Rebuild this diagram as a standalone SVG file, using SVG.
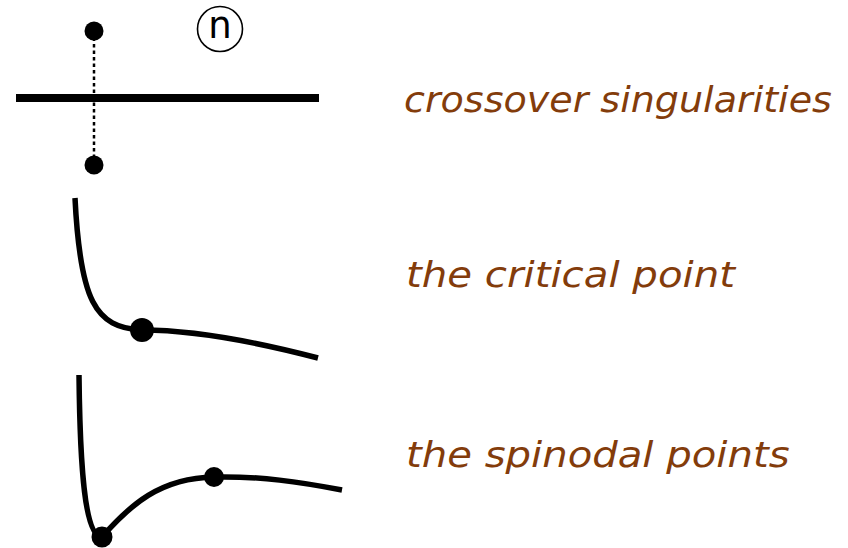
<svg xmlns="http://www.w3.org/2000/svg" width="848" height="548" viewBox="0 0 848 548">
<style>
.curve{fill:none;stroke:#000;stroke-width:5.5;stroke-linecap:butt}
.dot{fill:#000}
.lbl{font-family:"DejaVu Sans","Liberation Sans",sans-serif;font-style:oblique;font-size:35px;fill:#833C0B}
</style>
<rect width="848" height="548" fill="#fff"/>
<g id="crossover">
<line x1="16" y1="98" x2="319" y2="98" stroke="#000" stroke-width="8"/>
<line x1="94" y1="31" x2="94" y2="165" stroke="#000" stroke-width="2.5" stroke-dasharray="3.5 3"/>
<circle class="dot" cx="94" cy="31" r="9.5"/>
<circle class="dot" cx="94" cy="165" r="9.5"/>
<circle cx="220" cy="29" r="22.5" fill="none" stroke="#000" stroke-width="1.6"/>
<text x="220" y="38" text-anchor="middle" font-family="DejaVu Sans, sans-serif" font-size="37" fill="#000">n</text>
<text class="lbl" transform="translate(404,112) scale(1.087,1)">crossover singularities</text>
</g>
<g id="critical">
<path class="curve" d="M75,198 C80,300 95,328 142,330 C180,330 230,335 318,358"/>
<circle class="dot" cx="142" cy="330" r="12"/>
<text class="lbl" transform="translate(406,287) scale(1.15,1)">the critical point</text>
</g>
<g id="spinodal">
<path class="curve" d="M79,375 C80,470 85,537 102,537 C130,505 160,478 214,477 C260,476 300,482 342,490"/>
<circle class="dot" cx="102" cy="537" r="10.5"/>
<circle class="dot" cx="214" cy="477" r="10"/>
<text class="lbl" transform="translate(406,467) scale(1.148,1)">the spinodal points</text>
</g>
<g id="connectors"></g>
</svg>
